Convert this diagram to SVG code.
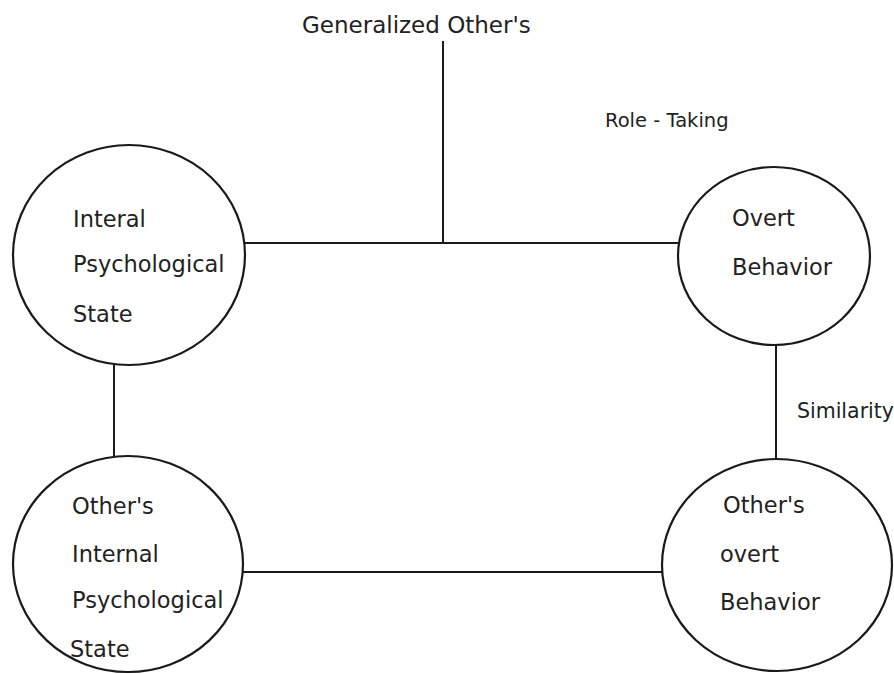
<svg xmlns="http://www.w3.org/2000/svg" width="894" height="674" viewBox="0 0 894 674">
<style>
.node { fill: #ffffff; stroke: #1a1a1a; stroke-width: 2.2; }
.conn { stroke: #1a1a1a; stroke-width: 2; fill: none; }
text { font-family: "DejaVu Sans", "Liberation Sans", sans-serif; fill: #222222; }
.nt { font-size: 22.5px; }
</style>
<rect width="894" height="674" fill="#ffffff"/>
<g id="connectors">
  <line class="conn" x1="443" y1="41" x2="443" y2="243"/>
  <line class="conn" x1="245" y1="243" x2="678" y2="243"/>
  <line class="conn" x1="114" y1="365" x2="114" y2="457"/>
  <line class="conn" x1="776" y1="345" x2="776" y2="459"/>
  <line class="conn" x1="243" y1="572" x2="662" y2="572"/>
</g>
<g id="node-internal">
  <ellipse class="node" cx="129" cy="255" rx="116" ry="110"/>
  <text class="nt" x="73" y="227">Interal</text>
  <text class="nt" x="73" y="272">Psychological</text>
  <text class="nt" x="73" y="322">State</text>
</g>
<g id="node-overt">
  <ellipse class="node" cx="774" cy="256" rx="96" ry="89"/>
  <text class="nt" x="732" y="226">Overt</text>
  <text class="nt" x="732" y="275">Behavior</text>
</g>
<g id="node-others-internal">
  <ellipse class="node" cx="128" cy="564" rx="115" ry="108"/>
  <text class="nt" x="72" y="514">Other's</text>
  <text class="nt" x="72" y="562">Internal</text>
  <text class="nt" x="72" y="608">Psychological</text>
  <text class="nt" x="70" y="657">State</text>
</g>
<g id="node-others-overt">
  <ellipse class="node" cx="777" cy="565" rx="115" ry="106"/>
  <text class="nt" x="723" y="513">Other's</text>
  <text class="nt" x="720" y="562">overt</text>
  <text class="nt" x="720" y="610">Behavior</text>
</g>
<g id="labels">
  <text x="302" y="33" font-size="23">Generalized Other's</text>
  <text x="605" y="127" font-size="19.5">Role - Taking</text>
  <text x="797" y="418" font-size="20.5">Similarity</text>
</g>
</svg>
